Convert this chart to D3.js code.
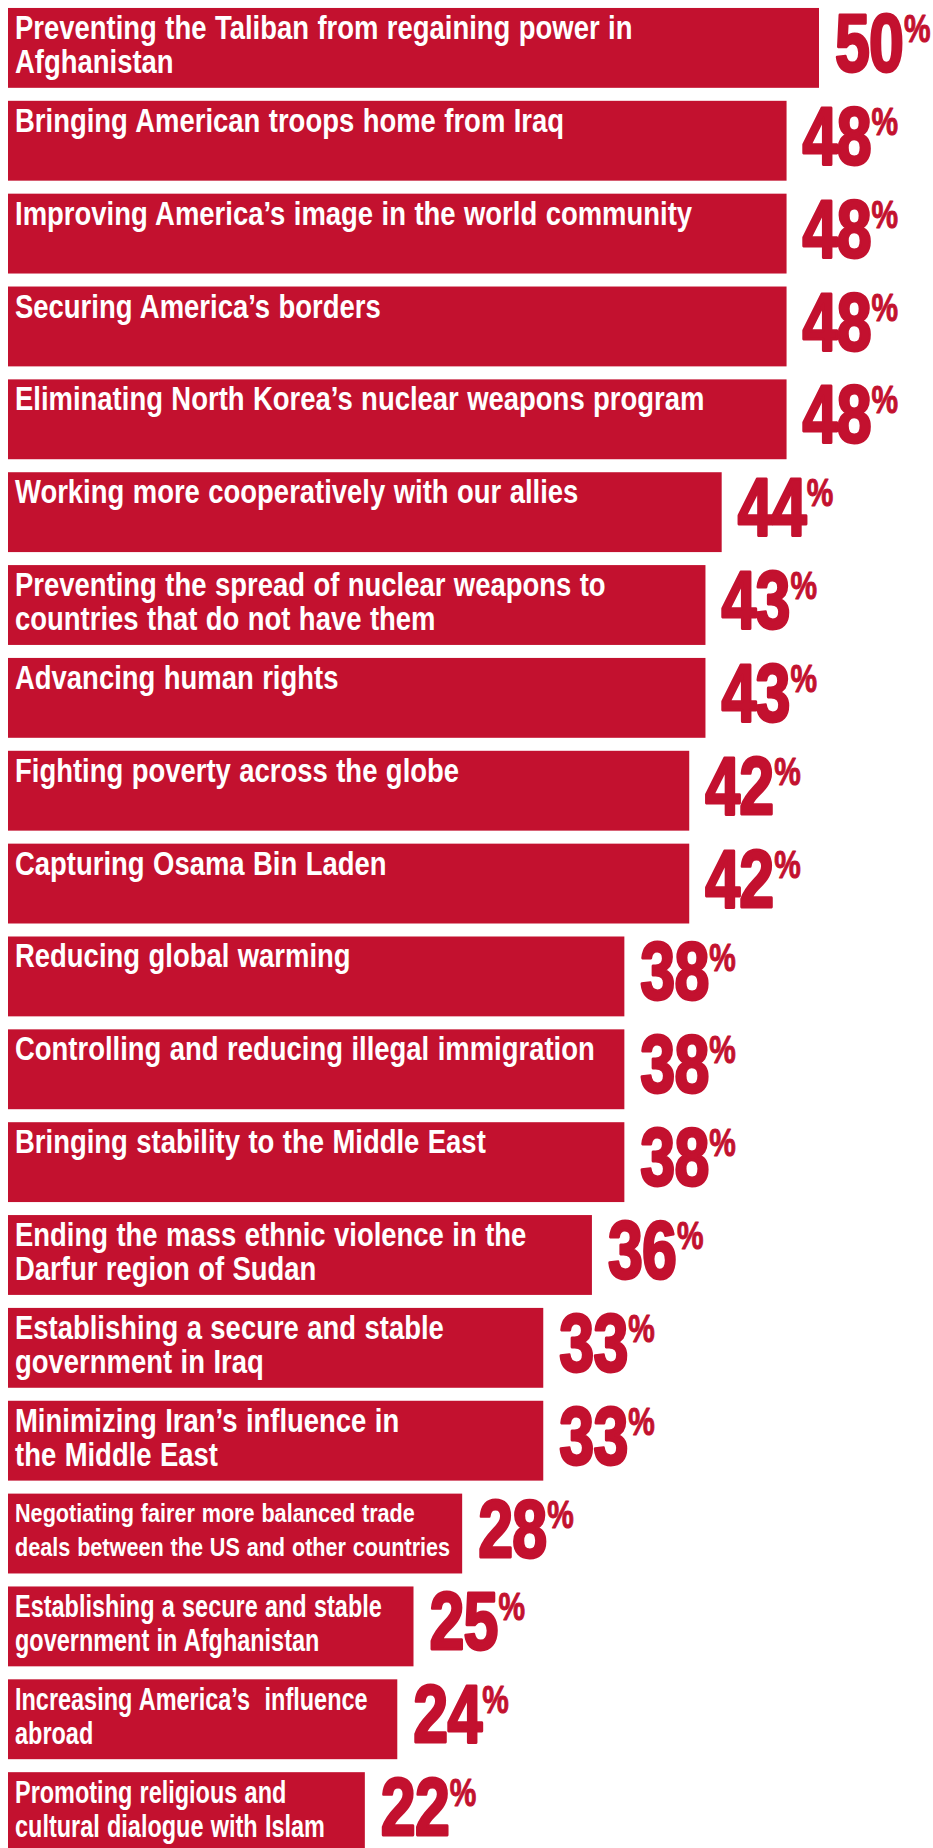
<!DOCTYPE html>
<html>
<head>
<meta charset="utf-8">
<script src="https://cdn.jsdelivr.net/npm/d3@7"></script>
<style>
  html, body { margin: 0; padding: 0; background: #ffffff; }
  svg { display: block; }
</style>
</head>
<body>
<div id="chart"></div>
<script>
// Issue priorities and share of respondents naming each
const categories = [
  "Preventing the Taliban from regaining power in\nAfghanistan",
  "Bringing American troops home from Iraq",
  "Improving America\u2019s image in the world community",
  "Securing America\u2019s borders",
  "Eliminating North Korea\u2019s nuclear weapons program",
  "Working more cooperatively with our allies",
  "Preventing the spread of nuclear weapons to\ncountries that do not have them",
  "Advancing human rights",
  "Fighting poverty across the globe",
  "Capturing Osama Bin Laden",
  "Reducing global warming",
  "Controlling and reducing illegal immigration",
  "Bringing stability to the Middle East",
  "Ending the mass ethnic violence in the\nDarfur region of Sudan",
  "Establishing a secure and stable\ngovernment in Iraq",
  "Minimizing Iran\u2019s influence in\nthe Middle East",
  "Negotiating fairer more balanced trade\ndeals between the US and other countries",
  "Establishing a secure and stable\ngovernment in Afghanistan",
  "Increasing America\u2019s  influence\nabroad",
  "Promoting religious and\ncultural dialogue with Islam"
];
const values = [50, 48, 48, 48, 48, 44, 43, 43, 42, 42, 38, 38, 38, 36, 33, 33, 28, 25, 24, 22];

// Labels set smaller or tighter so they fit their bar
const smallLabels = ["Negotiating fairer more balanced trade\ndeals between the US and other countries"];
const tightLabels = [
  "Establishing a secure and stable\ngovernment in Afghanistan",
  "Increasing America\u2019s  influence\nabroad",
  "Promoting religious and\ncultural dialogue with Islam"
];

const W = 933, H = 1848;
const RED = "#c3112f";
const left = 8;

const svg = d3.select("#chart").append("svg")
  .attr("width", W).attr("height", H)
  .attr("viewBox", `0 0 ${W} ${H}`);

const data = categories.map((c, i) => ({ label: c, value: values[i] }));

const x = d3.scaleLinear().domain([0, 50]).range([0, 811]);
const step = 92.9;
const y = d3.scaleBand()
  .domain(categories)
  .range([1, 1 + step * categories.length])
  .paddingInner(0.14)
  .paddingOuter(0.075);

const FONT = "'Liberation Sans', Arial, Helvetica, sans-serif";

const rows = svg.append("g").selectAll("g.row")
  .data(data)
  .join("g")
  .attr("class", "row")
  .attr("transform", d => `translate(0,${y(d.label)})`);

rows.append("rect")
  .attr("x", left)
  .attr("y", 0)
  .attr("width", d => x(d.value))
  .attr("height", y.bandwidth())
  .attr("fill", RED);

// Category names, white, condensed, top-left inside the bar
rows.each(function(d) {
  const g = d3.select(this);
  const small = smallLabels.includes(d.label);
  const tight = tightLabels.includes(d.label);
  const fs = small ? 26 : tight ? 31 : 33;
  const sx = tight ? 0.757 : 0.832;
  const lines = d.label.split("\n");
  const t = g.append("text")
    .attr("transform", `translate(${left + 7},0) scale(${sx},1)`)
    .attr("fill", "#ffffff")
    .attr("font-family", FONT)
    .attr("font-weight", "bold")
    .attr("font-size", fs)
    .attr("word-spacing", 1)
    .style("white-space", "pre");
  lines.forEach((ln, k) => {
    t.append("tspan")
      .attr("x", 0)
      .attr("y", (small ? 28 : 31) + k * 34)
      .text(ln);
  });
});

// Value labels: large heavy figures with a raised percent sign
rows.append("text")
  .attr("transform", d => `translate(${left + x(d.value) + 16},63) scale(0.765,1)`)
  .attr("fill", RED)
  .attr("stroke", RED)
  .attr("stroke-width", 3)
  .attr("stroke-linejoin", "round")
  .attr("font-family", FONT)
  .attr("font-weight", "bold")
  .attr("font-size", 82)
  .attr("letter-spacing", -1)
  .call(t => {
    t.append("tspan").text(d => d3.format("d")(d.value));
    t.append("tspan")
      .attr("font-size", 39)
      .attr("stroke-width", 1)
      .attr("dy", -29)
      .attr("dx", 1)
      .text("%");
  });
</script>
</body>
</html>
